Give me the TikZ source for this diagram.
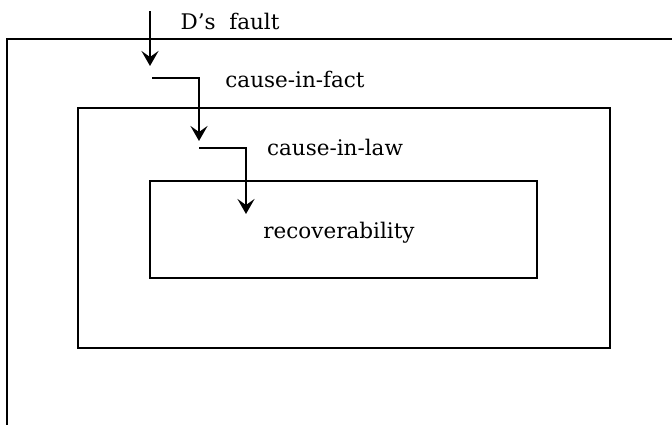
\documentclass[tikz,border=0pt]{standalone}
\usepackage{fontspec}
\setmainfont{DejaVu Serif}
\usetikzlibrary{arrows.meta}
\begin{document}
\begin{tikzpicture}[x=1pt,y=-1pt,
  frame/.style={draw=black,line width=2.3pt},
  flow/.style={draw=black,line width=2.3pt,
    -{Stealth[length=15pt,width=17pt,inset=6pt]}},
  lbl/.style={font=\fontsize{21.5}{24}\selectfont,inner sep=0pt}]
\useasboundingbox (0,0) rectangle (672,424);
\clip (0,0) rectangle (672,424);
% nested boxes
\draw[frame] (7,39) rectangle (700,460);
\draw[frame] (78,108) rectangle (610,348);
\draw[frame] (150,181) rectangle (537,278);
% labels
\node[lbl] (fault) at (230,21) {D’s\ \ fault};
\node[lbl] (fact) at (295,79) {cause-in-fact};
\node[lbl] (law) at (335,147) {cause-in-law};
\node[lbl] (recov) at (339,233) {recoverability};
% connector anchors
\coordinate (s1) at (150,11);
\coordinate (e1) at (150,66);
\coordinate (s2) at (152,78);
\coordinate (k2) at (199,78);
\coordinate (e2) at (199,141);
\coordinate (s3) at (199,148);
\coordinate (k3) at (246,148);
\coordinate (e3) at (246,214);
\draw[flow] (s1) -- (e1);
\draw[flow] (s2) -- (k2) -- (e2);
\draw[flow] (s3) -- (k3) -- (e3);
\end{tikzpicture}
\end{document}
